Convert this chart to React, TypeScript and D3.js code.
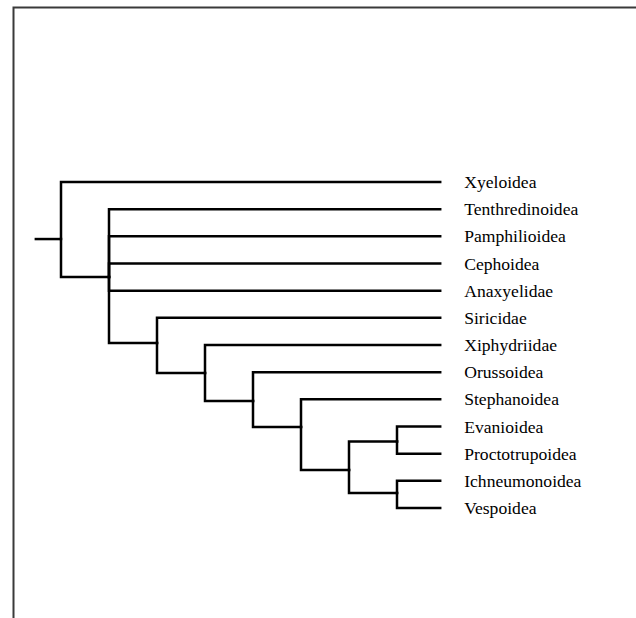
import { useEffect, useRef } from 'react';
import * as d3 from 'd3';

// leaf taxa, top to bottom
const taxa = [
  'Xyeloidea',
  'Tenthredinoidea',
  'Pamphilioidea',
  'Cephoidea',
  'Anaxyelidae',
  'Siricidae',
  'Xiphydriidae',
  'Orussoidea',
  'Stephanoidea',
  'Evanioidea',
  'Proctotrupoidea',
  'Ichneumonoidea',
  'Vespoidea',
];

// internal nodes: id, parent, depth (column), row where the parent branch joins
const nodeIds = ['root', 'n1', 'n2', 'n3', 'n4', 'n5', 'n6', 'n7', 'n8'];
const nodeParents = ['', 'root', 'n1', 'n2', 'n3', 'n4', 'n5', 'n6', 'n6'];
const nodeDepths = [0, 1, 2, 3, 4, 5, 6, 7, 7];
const nodeRows = [2.1, 3.5, 5.93, 7.03, 8.06, 9.02, 10.6, 9.55, 11.45];

// parent of each leaf taxon
const leafParents = [
  'root', 'n1', 'n1', 'n1', 'n1', 'n2', 'n3', 'n4', 'n5', 'n7', 'n7', 'n8', 'n8',
];

const stemDepth = -0.55;
const tipDepth = 7.9;

export default function App() {
  const svgRef = useRef<SVGSVGElement>(null);

  useEffect(() => {
    if (!svgRef.current) return;
    const svg = d3.select(svgRef.current);
    svg.selectAll('*').remove();

    const x = d3.scaleLinear().domain([0, 7]).range([61, 397]);
    const y = d3.scaleLinear().domain([0, taxa.length - 1]).range([182, 508]);

    const rows = [
      ...nodeIds.map((id, i) => ({
        id,
        parentId: nodeParents[i] || null,
        depth: nodeDepths[i],
        row: nodeRows[i],
        name: '',
      })),
      ...taxa.map((t, i) => ({
        id: t,
        parentId: leafParents[i],
        depth: tipDepth,
        row: i,
        name: t,
      })),
    ];

    const root = d3.stratify<any>()
      .id((d) => d.id)
      .parentId((d) => d.parentId)(rows);

    // frame (only its top and left edges are in view)
    svg.append('rect')
      .attr('x', 13.5)
      .attr('y', 7.5)
      .attr('width', 800)
      .attr('height', 800)
      .attr('fill', 'none')
      .attr('stroke', '#3a3a3a')
      .attr('stroke-width', 2);

    const g = svg.append('g');

    // root stem
    g.append('line')
      .attr('x1', x(stemDepth))
      .attr('x2', x(root.data.depth))
      .attr('y1', y(root.data.row))
      .attr('y2', y(root.data.row))
      .attr('stroke', '#000')
      .attr('stroke-width', 2.5);

    g.selectAll('path.link')
      .data(root.links())
      .join('path')
      .attr('class', 'link')
      .attr('fill', 'none')
      .attr('stroke', '#000')
      .attr('stroke-width', 2.5)
      .attr('stroke-linejoin', 'miter')
      .attr('stroke-linecap', 'square')
      .attr('d', (l: any) =>
        `M${x(l.source.data.depth)},${y(l.source.data.row)}V${y(l.target.data.row)}H${x(l.target.data.depth)}`
      );

    g.selectAll('text.taxon')
      .data(root.leaves())
      .join('text')
      .attr('class', 'taxon')
      .attr('x', (d: any) => x(d.data.depth) + 24)
      .attr('y', (d: any) => y(d.data.row))
      .attr('dy', '0.35em')
      .attr('font-family', '"Liberation Serif", "Times New Roman", serif')
      .attr('font-size', 17.6)
      .attr('fill', '#000')
      .text((d: any) => d.data.name);
  }, []);

  return (
    <svg
      ref={svgRef}
      width={636}
      height={618}
      style={{ position: 'absolute', left: 0, top: 0, background: '#fff' }}
    />
  );
}
